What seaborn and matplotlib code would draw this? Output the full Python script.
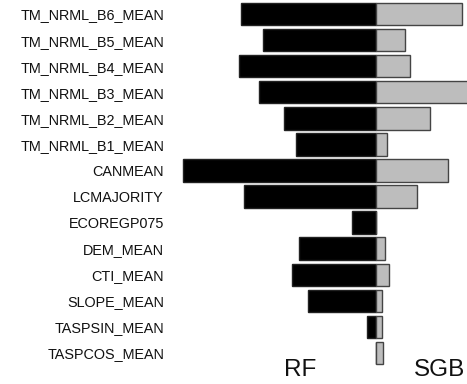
import matplotlib
matplotlib.use("Agg")
import matplotlib.pyplot as plt
import seaborn as sns
import pandas as pd

features = ["TM_NRML_B6_MEAN", "TM_NRML_B5_MEAN", "TM_NRML_B4_MEAN", "TM_NRML_B3_MEAN",
            "TM_NRML_B2_MEAN", "TM_NRML_B1_MEAN", "CANMEAN", "LCMAJORITY", "ECOREGP075",
            "DEM_MEAN", "CTI_MEAN", "SLOPE_MEAN", "TASPSIN_MEAN", "TASPCOS_MEAN"]
rf_importance = [135, 113, 137, 117, 92, 80, 193, 132, 24, 77, 84, 68, 9, 0]
sgb_importance = [86, 29, 34, 95, 54, 11, 72, 41, 0, 9, 13, 6, 6, 7]

df = pd.DataFrame({"feature": features,
                   "RF": [-v for v in rf_importance],
                   "SGB": sgb_importance})

sns.set_style("white")
plt.rcParams["font.family"] = ["Liberation Sans", "DejaVu Sans"]

fig = plt.figure(figsize=(4.67, 3.84), dpi=100)
ax = fig.add_axes([170 / 467, 0, 297 / 467, 1])

sns.barplot(data=df, x="RF", y="feature", orient="h", color="black",
            edgecolor="#222222", linewidth=1, width=0.86, saturation=1, ax=ax)
sns.barplot(data=df, x="SGB", y="feature", orient="h", color="#bdbdbd",
            edgecolor="#444444", linewidth=1, width=0.86, saturation=1, ax=ax)

ax.set_xlim(-206, 91)
ax.set_ylim(14.19, -0.537)
ax.set_xlabel("")
ax.set_ylabel("")
ax.set_xticks([])
ax.tick_params(axis="y", length=0, pad=4.3, labelsize=10.4, colors="#111111")
for lbl in ax.get_yticklabels():
    lbl.set_va("center_baseline")
for s in ax.spines.values():
    s.set_visible(False)

fig.text(300 / 467, 1 - 375.7 / 384, "RF", ha="center", va="baseline", fontsize=17.5, color="#111111")
fig.text(439.5 / 467, 1 - 375.7 / 384, "SGB", ha="center", va="baseline", fontsize=17.5, color="#111111")

fig.savefig("out.png", dpi=100)
